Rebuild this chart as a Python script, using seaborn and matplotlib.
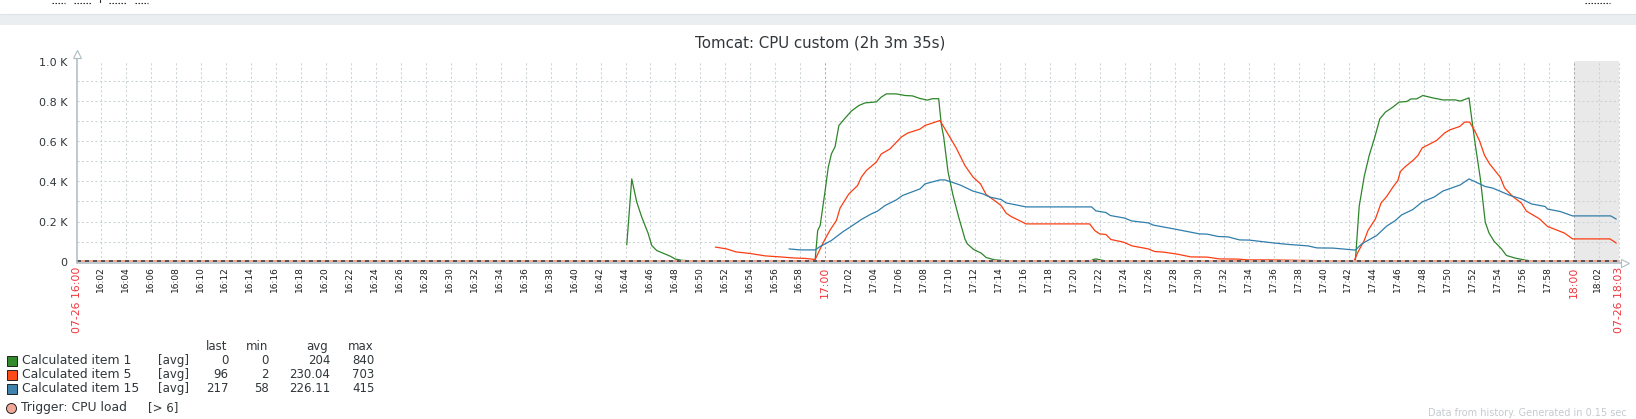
import matplotlib
matplotlib.use("Agg")
import matplotlib.pyplot as plt
from matplotlib.patches import Rectangle
from matplotlib.lines import Line2D
from matplotlib.transforms import ScaledTranslation
import seaborn as sns

# minutes since 16:00
item1_t = [44.1, 44.5, 44.9, 45.3, 45.8, 46.1, 46.5, 47.6, 48.0, 48.5, 50.0, 59.0, 59.2, 59.4, 59.6, 60.0, 60.25, 60.5, 60.8, 61.1, 61.6, 62.1, 62.7, 63.2, 64.1, 64.5, 64.9, 65.7, 66.4, 67.0, 67.6, 68.2, 68.6, 69.1, 69.3, 69.5, 69.85, 70.25, 70.7, 71.2, 71.4, 71.9, 72.5, 72.9, 73.6, 74.4, 76.0, 81.2, 81.5, 81.7, 82.3, 83.0, 102.3, 102.5, 102.8, 103.2, 103.6, 104.05, 104.45, 104.9, 105.5, 106.0, 106.6, 106.95, 107.4, 107.9, 108.7, 109.5, 110.5, 110.9, 111.6, 111.8, 112.1, 112.5, 112.9, 113.2, 113.6, 114.2, 114.6, 115.3, 116.1, 117.0, 123.58]
item1_v = [83, 413, 297, 222, 143, 80, 55, 26, 12, 6, 0, 0, 10, 155, 180, 355, 472, 538, 575, 680, 717, 752, 780, 793, 798, 822, 838, 838, 830, 828, 815, 807, 814, 814, 688, 622, 447, 330, 222, 113, 88, 60, 42, 20, 8, 5, 0, 0, 10, 13, 5, 0, 0, 10, 277, 425, 530, 622, 713, 747, 772, 797, 800, 813, 813, 830, 818, 808, 808, 802, 818, 722, 585, 418, 197, 143, 102, 63, 30, 17, 7, 0, 0]
item5_t = [51.2, 52.1, 52.85, 54.0, 55.2, 56.4, 57.4, 58.5, 59.2, 59.6, 60.0, 60.4, 60.9, 61.2, 61.9, 62.6, 62.9, 63.3, 64.1, 64.5, 65.2, 66.1, 66.6, 67.6, 68.0, 69.2, 69.6, 70.5, 71.2, 71.85, 72.45, 72.9, 73.5, 74.1, 74.5, 74.9, 76.1, 81.2, 81.6, 82.0, 82.5, 82.9, 83.9, 84.6, 85.9, 86.4, 87.1, 88.2, 89.3, 90.6, 91.6, 93.1, 93.8, 95.6, 100.0, 102.4, 102.7, 103.2, 103.5, 104.1, 104.55, 105.0, 105.5, 105.9, 106.1, 106.45, 107.1, 107.5, 107.85, 109.0, 109.65, 110.05, 110.85, 111.25, 111.65, 112.05, 112.45, 112.85, 113.25, 114.1, 114.45, 115.1, 115.8, 116.2, 117.25, 117.9, 118.6, 119.25, 119.9, 122.9, 123.4]
item5_v = [72, 63, 48, 40, 28, 23, 18, 15, 10, 63, 113, 158, 205, 268, 338, 380, 422, 455, 497, 538, 563, 622, 642, 662, 680, 705, 663, 568, 480, 422, 388, 335, 308, 280, 242, 225, 188, 188, 155, 138, 135, 110, 97, 78, 63, 50, 47, 37, 23, 22, 13, 12, 8, 8, 4, 4, 47, 105, 155, 213, 292, 325, 372, 405, 450, 472, 505, 530, 568, 605, 643, 658, 675, 697, 697, 655, 602, 530, 488, 422, 368, 325, 292, 252, 213, 175, 158, 142, 113, 113, 92]
item15_t = [57.1, 58.0, 59.2, 59.6, 60.5, 61.45, 62.0, 62.9, 63.7, 64.2, 64.8, 65.7, 66.2, 67.6, 68.0, 69.2, 69.6, 70.8, 71.85, 72.65, 73.2, 74.1, 74.5, 76.1, 81.35, 81.7, 82.5, 82.85, 84.0, 84.55, 85.9, 86.3, 88.2, 90.0, 90.6, 91.5, 92.3, 93.2, 94.0, 95.9, 96.7, 97.2, 98.7, 99.4, 100.7, 101.6, 102.5, 103.0, 104.2, 105.0, 105.7, 106.2, 107.1, 107.85, 108.8, 109.5, 110.9, 111.6, 112.9, 113.5, 114.9, 115.8, 116.6, 117.7, 117.9, 118.9, 119.9, 122.95, 123.4]
item15_v = [63, 58, 58, 75, 105, 150, 172, 210, 238, 252, 280, 308, 330, 363, 388, 408, 408, 383, 352, 338, 322, 310, 293, 273, 273, 253, 245, 230, 217, 203, 193, 182, 160, 138, 137, 125, 123, 108, 107, 93, 88, 85, 78, 68, 67, 62, 57, 88, 130, 177, 205, 233, 260, 298, 322, 352, 383, 413, 375, 367, 330, 313, 288, 275, 262, 250, 228, 228, 212]

y_ticks = [0, 200, 400, 600, 800, 1000]
y_labels = ["0", "0.2 K", "0.4 K", "0.6 K", "0.8 K", "1.0 K"]
x_end = 123.58
names = ["Calculated item 1", "Calculated item 5", "Calculated item 15"]
col_last = ["0", "96", "217"]
col_min = ["0", "2", "58"]
col_avg = ["204", "230.04", "226.11"]
col_max = ["840", "703", "415"]
line_colors = ["#2e852a", "#fb3d12", "#2f7dab"]
box_colors = ["#338a2e", "#ff4a1a", "#3f82ac"]

W, H = 1636, 419
TEXT = "#30363a"
GRID = "#cbd3d7"
AXIS = "#aebcc4"

sns.set_theme(style="white")
plt.rcParams["font.family"] = "DejaVu Sans"

fig = plt.figure(figsize=(W / 100, H / 100), dpi=100)
fig.patch.set_facecolor("white")


def fx(px):
    return px / W


def fy(py):
    return 1 - py / H


def label(px, py, s, **kw):
    kw.setdefault("fontsize", 8.5)
    kw.setdefault("color", TEXT)
    kw.setdefault("va", "center")
    fig.text(fx(px), fy(py), s, **kw)


# page furniture above the graph
fig.add_artist(Rectangle((0, fy(25)), 1, 11 / H, transform=fig.transFigure, color="#ebeef0", lw=0))
fig.add_artist(Line2D([0, 1], [fy(14.5)] * 2, color="#dde3e8", lw=0.8))
for a, b in [(52, 65), (74, 91), (109, 126), (135, 148), (1585, 1610)]:
    fig.add_artist(Line2D([fx(a), fx(b)], [fy(3.5)] * 2, color="#222222", lw=0.8, ls=(0, (1.3, 1.4))))
fig.add_artist(Line2D([fx(99.5)] * 2, [fy(0), fy(2.5)], color="#222222", lw=0.8))

ax = fig.add_axes([fx(76.5), fy(261.5), 1542 / W, 200 / H])
ax.set_xlim(0, x_end)
ax.set_ylim(0, 1000)
ax.patch.set_alpha(0)
for s in ax.spines.values():
    s.set_visible(False)

ax.axvspan(120, x_end, color="#e9e9e9", lw=0, zorder=0)

dash = (0, (2, 2.3))
for v in range(100, 1000, 100):
    ax.axhline(v, color=GRID, lw=0.75, ls=dash, zorder=1)
for m in range(2, 123, 2):
    dark = m in (60, 120)
    ax.axvline(m, color="#a8a8a8" if dark else GRID, lw=0.75, ls=dash, zorder=1)
ax.axvline(x_end, color=GRID, lw=0.75, ls=dash, zorder=1, clip_on=False)

for t, v, c in zip([item1_t, item5_t, item15_t], [item1_v, item5_v, item15_v], line_colors):
    sns.lineplot(x=t, y=v, color=c, lw=0.9, ax=ax, estimator=None, sort=False, zorder=3)

# trigger line on zero
ax.axhline(2.5, color="#f0a898", lw=1.44, zorder=4, clip_on=False)
ax.axhline(2.5, color="#555555", lw=1.44, ls=(0, (2, 2)), zorder=5, clip_on=False)

# axes with hollow arrow heads
ax.plot([0, 0], [-0.005, 1.03], transform=ax.transAxes, color=AXIS, lw=1.1, clip_on=False, zorder=6)
ax.plot([0, 1.0035], [-0.005, -0.005], transform=ax.transAxes, color=AXIS, lw=1.1, clip_on=False, zorder=6)
ax.plot([0], [1.035], transform=ax.transAxes, marker="^", ms=6, mfc="white", mec=AXIS, mew=0.8, clip_on=False, zorder=7)
ax.plot([1.0042], [-0.005], transform=ax.transAxes, marker=">", ms=6, mfc="white", mec=AXIS, mew=0.8, clip_on=False, zorder=7)

ax.set_yticks(y_ticks, y_labels, fontsize=8, color=TEXT)
ax.tick_params(axis="y", length=0, pad=6.5)

ticks = [0] + list(range(2, 123, 2)) + [x_end]
tick_labels = ["07-26 16:00"]
for m in ticks[1:-1]:
    tick_labels.append(f"{16 + m // 60}:{m % 60:02d}")
tick_labels.append("07-26 18:03")
ax.set_xticks(ticks, tick_labels, rotation=90)
ax.tick_params(axis="x", length=0, pad=3.5)
nudge = ScaledTranslation(-1.3 / 100, 0, fig.dpi_scale_trans)
for tick, s, m in zip(ax.get_xticklabels(), tick_labels, ticks):
    big = m in (0, 60, 120, x_end)
    tick.set_fontsize(7.8 if big else 6.5)
    tick.set_color("#f0343c" if big else "#1c1c1c")
    if not big:
        tick.set_transform(tick.get_transform() + nudge)

label(820, 43, "Tomcat: CPU custom (2h 3m 35s)", fontsize=10.8, ha="center")

# legend table
for hdr, xr in zip(["last", "min", "avg", "max"], [227, 268, 328, 374]):
    label(xr, 346.5, hdr, ha="right")
for i, name in enumerate(names):
    row = 360.7 + 14 * i
    fig.add_artist(Rectangle((fx(6.5), fy(row + 5)), 10 / W, 10 / H, transform=fig.transFigure,
                             fc=box_colors[i], ec="#222222", lw=0.7))
    label(22.5, row, name, fontsize=8.9)
    label(158, row, "[avg]")
    label(228.5, row, col_last[i], ha="right")
    label(268.5, row, col_min[i], ha="right")
    label(330.5, row, col_avg[i], ha="right")
    label(374.5, row, col_max[i], ha="right")

fig.add_artist(Line2D([fx(11.3)], [fy(407.5)], marker="o", ms=7.2, mfc="#f0a898", mec="#222222", mew=0.7))
label(21, 407.5, "Trigger: CPU load", fontsize=8.9)
label(148, 407.5, "[> 6]")
label(1627, 412.5, "Data from history. Generated in 0.15 sec", fontsize=7, color="#c4cbcf", ha="right")

fig.savefig("out.png", dpi=100)
